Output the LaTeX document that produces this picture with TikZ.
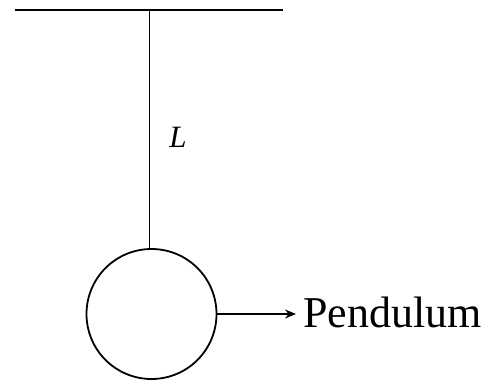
\documentclass[tikz,border=0pt]{standalone}
\usepackage{fontspec}
\setmainfont{Liberation Serif}
\usetikzlibrary{arrows.meta}
\begin{document}
\begin{tikzpicture}[x=1pt,y=-1pt,
  ballstyle/.style={circle,draw,line width=1.8pt,minimum size=130pt,inner sep=0pt},
  stringline/.style={line width=1.6pt},
  ceilline/.style={line width=2pt},
  arrowline/.style={line width=1.6pt,-{Stealth[length=11pt,width=9pt]}},
  lbl/.style={inner sep=0pt,font=\fontsize{44}{50}\selectfont}]
\useasboundingbox (0,0) rectangle (500,385);
\coordinate (cl) at (15,10.5);
\coordinate (cr) at (283,10.5);
\coordinate (top) at (149.5,10.5);
\node[ballstyle] (ball) at (151.5,314) {};
\draw[ceilline] (cl) -- (cr);
\draw[stringline] (top) -- (top |- ball.north);
\node[inner sep=0pt,font=\fontsize{31}{36}\selectfont\itshape] (L) at (178,137) {L};
\node[lbl,anchor=base west] (pend) at (303,327) {Pendulum};
\coordinate (arrend) at (296,314);
\draw[arrowline] (ball.east) -- (arrend);
\end{tikzpicture}
\end{document}
